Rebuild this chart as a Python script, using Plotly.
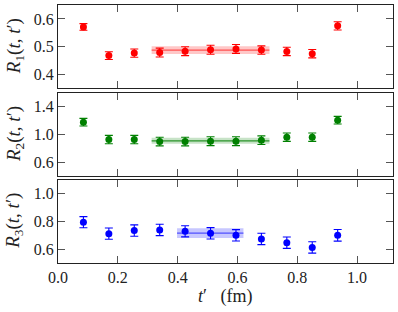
import plotly.graph_objects as go

# time separations t' (fm)
t_vals = [0.085, 0.17, 0.255, 0.34, 0.425, 0.51, 0.595, 0.68, 0.765, 0.85, 0.935]

r1_vals = [0.571, 0.468, 0.477, 0.479, 0.484, 0.489, 0.492, 0.488, 0.483, 0.475, 0.575]
r1_errs = [0.012, 0.014, 0.015, 0.016, 0.016, 0.016, 0.016, 0.015, 0.015, 0.015, 0.015]

r2_vals = [1.177, 0.928, 0.928, 0.899, 0.899, 0.904, 0.904, 0.918, 0.961, 0.961, 1.206]
r2_errs = [0.055, 0.060, 0.060, 0.062, 0.062, 0.064, 0.064, 0.062, 0.060, 0.060, 0.055]

r3_vals = [0.793, 0.711, 0.733, 0.738, 0.728, 0.713, 0.699, 0.673, 0.646, 0.612, 0.699]
r3_errs = [0.040, 0.040, 0.041, 0.041, 0.040, 0.041, 0.041, 0.041, 0.041, 0.041, 0.042]

# fits: [x_start, x_end], central value, error
fit1_range = [0.313, 0.707]
fit1_val, fit1_err = 0.488, 0.014
fit2_range = [0.313, 0.707]
fit2_val, fit2_err = 0.909, 0.043
fit3_range = [0.398, 0.620]
fit3_val, fit3_err = 0.714, 0.035

colors = ["#ff0000", "#008000", "#0000ff"]
band_colors = ["rgba(255,0,0,0.22)", "rgba(0,128,0,0.22)", "rgba(0,0,255,0.22)"]
line_colors = ["rgba(255,0,0,0.6)", "rgba(0,128,0,0.8)", "rgba(0,0,255,0.6)"]

series = [
    (r1_vals, r1_errs, fit1_range, fit1_val, fit1_err),
    (r2_vals, r2_errs, fit2_range, fit2_val, fit2_err),
    (r3_vals, r3_errs, fit3_range, fit3_val, fit3_err),
]

FONT = "Liberation Serif"
fig = go.Figure()

for i, (vals, errs, frange, fval, ferr) in enumerate(series):
    xa = "x" if i == 0 else f"x{i+1}"
    ya = "y" if i == 0 else f"y{i+1}"
    x0, x1 = frange
    fig.add_trace(go.Scatter(
        x=[x0, x1, x1, x0, x0], y=[fval - ferr, fval - ferr, fval + ferr, fval + ferr, fval - ferr],
        fill="toself", fillcolor=band_colors[i], line=dict(width=0), mode="lines",
        hoverinfo="skip", showlegend=False, xaxis=xa, yaxis=ya))
    fig.add_trace(go.Scatter(
        x=[x0, x1], y=[fval, fval], mode="lines",
        line=dict(color=line_colors[i], width=1.2), showlegend=False, xaxis=xa, yaxis=ya))
    fig.add_trace(go.Scatter(
        x=t_vals, y=vals, mode="markers",
        marker=dict(color=colors[i], size=7),
        error_y=dict(type="data", array=errs, color=colors[i], thickness=1.1, width=4),
        showlegend=False, xaxis=xa, yaxis=ya))

# plot area: x 58..392.7, y 5..262.7
domains = [[0.6767, 1.0], [0.3364, 0.6597], [0.0, 0.3236]]
yranges = [[0.35, 0.65], [0.4, 1.6], [0.5, 1.1]]
yticks = [[0.4, 0.5, 0.6], [0.6, 1.0, 1.4], [0.6, 0.8, 1.0]]
ytext = [["0.4", "0.5", "0.6"], ["0.6", "1.0", "1.4"], ["0.6", "0.8", "1.0"]]
xticks = [0.0, 0.2, 0.4, 0.6, 0.8, 1.0]
xtext = ["0.0", "0.2", "0.4", "0.6", "0.8", "1.0"]

axis_common = dict(showline=True, linecolor="#222", linewidth=1.2, mirror="ticks",
                   ticks="inside", ticklen=7, tickwidth=1.2, tickcolor="#555",
                   showgrid=False, zeroline=False, automargin=False,
                   tickfont=dict(family=FONT, size=16, color="#222"))

layout = dict(width=398, height=312, plot_bgcolor="white", paper_bgcolor="white",
              margin=dict(l=58, r=5, t=5, b=49, autoexpand=False), showlegend=False)

for i in range(3):
    xk = "xaxis" if i == 0 else f"xaxis{i+1}"
    yk = "yaxis" if i == 0 else f"yaxis{i+1}"
    ya = "y" if i == 0 else f"y{i+1}"
    xa = "x" if i == 0 else f"x{i+1}"
    layout[xk] = dict(axis_common, domain=[0, 1], anchor=ya, range=[0, 1.12],
                      tickvals=xticks, ticktext=xtext, showticklabels=(i == 2))
    layout[yk] = dict(axis_common, domain=domains[i], anchor=xa, range=yranges[i],
                      tickvals=yticks[i], ticktext=ytext[i])

fig.update_layout(**layout)

ytitles = ["<i>R</i><sub>1</sub>(<i>t</i>, <i>t</i>′)",
           "<i>R</i><sub>2</sub>(<i>t</i>, <i>t</i>′)",
           "<i>R</i><sub>3</sub>(<i>t</i>, <i>t</i>′)"]
for i in range(3):
    d = domains[i]
    fig.add_annotation(text=ytitles[i], xref="paper", yref="paper",
                       x=(14.5 - 58) / 335, y=(d[0] + d[1]) / 2,
                       xanchor="center", yanchor="middle", textangle=-90, showarrow=False,
                       font=dict(family=FONT, size=19, color="#222"))

fig.add_annotation(text="<i>t</i>′   (fm)", xref="paper", yref="paper",
                   x=(225 - 58) / 335, y=(263 - 296) / 258, xanchor="center", yanchor="middle",
                   showarrow=False, font=dict(family=FONT, size=18, color="#222"))

fig.write_html("out.html", config={"displayModeBar": False},
               post_script="document.body.style.margin='0';")
